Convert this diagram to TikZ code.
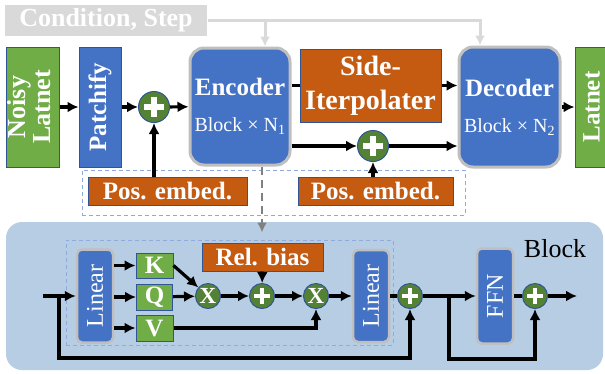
\documentclass[tikz,border=0pt]{standalone}
\usepackage{fontspec}
\setmainfont{Liberation Serif}
\usetikzlibrary{arrows.meta}
\definecolor{CG}{HTML}{70AD47}
\definecolor{CB}{HTML}{4472C4}
\definecolor{CO}{HTML}{C55A11}
\definecolor{CD}{HTML}{548235}
\definecolor{CE}{HTML}{2F5597}
\definecolor{CL}{HTML}{BFBFBF}
\definecolor{CK}{HTML}{D9D9D9}
\definecolor{CBG}{HTML}{B7CDE4}
\definecolor{CDash}{HTML}{8FAADC}
\definecolor{CGray}{HTML}{808080}

\tikzset{
  box/.style={draw=CE, line width=1pt, text=white, inner sep=0pt, align=center,
    font=\bfseries\fontsize{25}{24}\selectfont},
  greenbox/.style={box, fill=CG},
  bluebox/.style={box, fill=CB},
  orangebox/.style={box, fill=CO},
  coder/.style={box, fill=CB, draw=CL, line width=3pt, rounded corners=14pt},
  layer/.style={box, fill=CB, draw=CL, line width=2.5pt, rounded corners=5pt,
    font=\fontsize{24}{24}\selectfont},
  addop/.style={circle, fill=CD, draw=CE, line width=1pt, minimum size=#1, inner sep=0pt,
    path picture={
      \fill[white] ([xshift=-0.31*#1, yshift=-0.09*#1]path picture bounding box.center)
        rectangle ([xshift=0.31*#1, yshift=0.09*#1]path picture bounding box.center);
      \fill[white] ([xshift=-0.09*#1, yshift=-0.31*#1]path picture bounding box.center)
        rectangle ([xshift=0.09*#1, yshift=0.31*#1]path picture bounding box.center);}},
  mulop/.style={circle, fill=CD, draw=CE, line width=1pt, minimum size=25, inner sep=0pt,
    text=white, font=\bfseries\fontsize{23}{23}\selectfont},
  dashbox/.style={draw=CDash, line width=1pt, dash pattern=on 4pt off 3pt,
    inner sep=0pt},
  flow/.style={line width=3.2pt, -{Latex[length=11pt,width=11pt]}},
  link/.style={line width=3.2pt},
  condline/.style={draw=CK, line width=3pt},
}

\begin{document}
\begin{tikzpicture}[x=1pt, y=-1pt]
\useasboundingbox (0,0) rectangle (605,373);

% block background
\node[fill=CBG, rounded corners=16pt, minimum width=597, minimum height=148, inner sep=0pt] (blockbg) at (304.5,296) {};
\node[font=\fontsize{26}{26}\selectfont] (blocklabel) at (555,249) {Block};

% dashed groups
\node[dashbox, minimum width=383, minimum height=45] (posgroup) at (273.5,192.5) {};
\node[dashbox, minimum width=327, minimum height=105] (attn) at (229.5,292.5) {};

% top row
\node[box, fill=CK, draw=none, minimum width=202, minimum height=31,
  font=\bfseries\fontsize{26}{26}\selectfont] (cond) at (106,20.5) {Condition, Step};
\node[greenbox, minimum width=53, minimum height=120, font=\bfseries\fontsize{26}{25}\selectfont]
  (noisy) at (32.5,107)
  {\rotatebox{90}{\begin{tabular}{@{}c@{}}Noisy\\Latnet\end{tabular}}};
\node[bluebox, minimum width=42, minimum height=120] (patchify) at (100,107)
  {\rotatebox{90}{Patchify}};
\node[addop=31] (plus1) at (154,107) {};
\node[coder, minimum width=100, minimum height=117] (enc) at (240,106.5)
  {Encoder\\[12pt]{\mdseries\fontsize{20}{20}\selectfont Block × N\textsubscript{1}}};
\node[orangebox, minimum width=141, minimum height=73,
  font=\bfseries\fontsize{28}{34}\selectfont] (side) at (370.5,85.5) {Side-\\Iterpolater};
\node[addop=31] (plus2) at (373,146) {};
\node[coder, minimum width=101, minimum height=120] (dec) at (509.5,107)
  {Decoder\\[12pt]{\mdseries\fontsize{20}{20}\selectfont Block × N\textsubscript{2}}};
\node[greenbox, minimum width=33, minimum height=120] (lat) at (591.5,107)
  {\rotatebox{90}{Latnet}};
\node[orangebox, minimum width=159, minimum height=28] (pos1) at (167.5,191) {Pos. embed.};
\node[orangebox, minimum width=155, minimum height=28] (pos2) at (375.5,191) {Pos. embed.};

\draw[flow] (noisy) -- (patchify);
\draw[flow] (patchify) -- (plus1);
\draw[flow] (plus1) -- (enc);
\draw[flow] (plus1 |- pos1.north) -- (plus1);
\draw[link] (side.west -| enc.east) -- (side.west);
\draw[flow] (side.east) -- (side.east -| dec.west);
\draw[flow] (plus2 -| enc.east) -- (plus2);
\draw[flow] (plus2) -- (plus2 -| dec.west);
\draw[flow] (plus2 |- pos2.north) -- (plus2);
\draw[flow] (dec) -- (lat);

% condition lines
\draw[condline, -{Latex[length=10pt,width=10pt]}] (cond.east) -| ([xshift=-29.5]dec.north);
\draw[condline, -{Latex[length=10pt,width=10pt]}] ([xshift=25]enc.north |- cond.east) -- ([xshift=25]enc.north);

% zoom into block
\draw[CGray, line width=2.8pt, dash pattern=on 8pt off 5pt, -{Latex[length=10pt,width=10pt]},
  shorten >=7pt] ([xshift=22]enc.south) -- ([xshift=22]enc.south |- attn.north);

% block stuff
\coordinate (in) at (43,296);
\coordinate (split1) at (59,296);
\coordinate (split2) at (449,296);
\coordinate (out) at (577,296);
\node[layer, minimum width=36, minimum height=93] (lin1) at (95,296) {\rotatebox{90}{Linear}};
\node[greenbox, minimum width=37, minimum height=25] (kbox) at (154.5,265.5) {K};
\node[greenbox, minimum width=36, minimum height=26] (qbox) at (154.5,297) {Q};
\node[greenbox, minimum width=37, minimum height=26] (vbox) at (154.5,328) {V};
\node[mulop] (mul1) at (208,296) {X};
\node[addop=25] (plus3) at (262,296) {};
\node[mulop] (mul2) at (316,296) {X};
\node[orangebox, minimum width=121, minimum height=28] (relb) at (262.5,257) {Rel. bias};
\node[layer, minimum width=36, minimum height=92] (lin2) at (371,296) {\rotatebox{90}{Linear}};
\node[addop=25] (plus4) at (410,296) {};
\node[layer, minimum width=36, minimum height=95] (ffn) at (495,296) {\rotatebox{90}{FFN}};
\node[addop=25] (plus5) at (535,296) {};

\draw[flow] (in) -- (lin1);
\draw[flow] (kbox -| lin1.east) -- (kbox);
\draw[flow] (qbox -| lin1.east) -- (qbox);
\draw[flow] (vbox -| lin1.east) -- (vbox);
\draw[flow] (kbox.east) -- (mul1);
\draw[flow] (qbox) -- (mul1);
\draw[flow] (mul1) -- (plus3);
\draw[flow] (relb) -- (plus3);
\draw[flow] (plus3) -- (mul2);
\draw[flow] (vbox) -| (mul2);
\draw[flow] (mul2) -- (lin2);
\draw[link] (lin2) -- (plus4);
\draw[flow] (plus4) -- (ffn);
\draw[link] (ffn) -- (plus5);
\draw[flow] (plus5) -- (out);

% residuals
\draw[flow] (split1) -- ++(0,62) -| (plus4);
\draw[flow] (split2) -- ++(0,63) -| (plus5);

\end{tikzpicture}
\end{document}
